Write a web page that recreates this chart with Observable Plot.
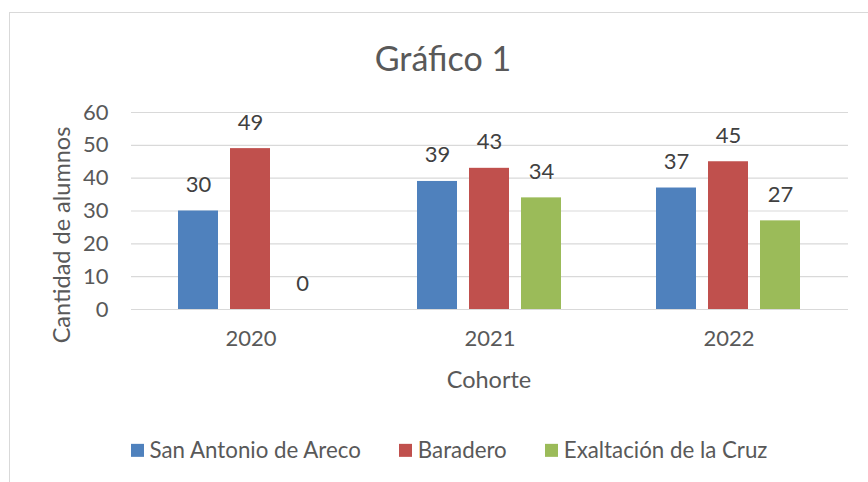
<!DOCTYPE html>
<html>
<head>
<meta charset="utf-8">
<script src="https://cdn.jsdelivr.net/npm/d3@7"></script>
<script src="https://cdn.jsdelivr.net/npm/@observablehq/plot@0.6"></script>
<style>
  html, body { margin: 0; padding: 0; background: #fff; }
  #wrap { position: relative; width: 868px; height: 482px; overflow: hidden; font-family: Lato, sans-serif; color: #595959; }
  #frame { position: absolute; left: 9px; top: 12px; width: 900px; height: 520px; border: 1px solid #d9d9d9; box-sizing: border-box; }
  #title { position: absolute; left: 0; width: 886px; top: 58px; transform: translateY(-50%); text-align: center; font-size: 34px; line-height: 1; }
  #ylab { position: absolute; left: 62px; top: 235px; transform: translate(-50%, -50%) rotate(-90deg); font-size: 23.5px; white-space: nowrap; line-height: 1; }
  #xlab { position: absolute; left: 489px; top: 380px; transform: translate(-50%, -50%); font-size: 23.5px; white-space: nowrap; line-height: 1; }
  #chart { position: absolute; left: 0; top: 90px; }
  #legend { position: absolute; left: 15px; width: 868px; top: 450px; transform: translateY(-50%); display: flex; justify-content: center; gap: 38px; font-size: 22.3px; line-height: 1; }
  .item { display: flex; align-items: center; gap: 6px; white-space: nowrap; }
  .sw { width: 13px; height: 13px; display: inline-block; }
</style>
</head>
<body>
<div id="wrap">
  <div id="frame"></div>
  <div id="title">Gráfico 1</div>
  <div id="ylab">Cantidad de alumnos</div>
  <div id="chart"></div>
  <div id="xlab">Cohorte</div>
  <div id="legend"></div>
</div>
<script>
const cohorts = ["2020", "2021", "2022"];
const series = ["San Antonio de Areco", "Baradero", "Exaltación de la Cruz"];
const sanAntonio = [30, 39, 37];
const baradero = [49, 43, 45];
const exaltacion = [0, 34, 27];
const colors = ["#4f81bd", "#c0504d", "#9bbb59"];
const yTicks = [0, 10, 20, 30, 40, 50, 60];

const seriesValues = [sanAntonio, baradero, exaltacion];
const data = cohorts.flatMap((c, i) =>
  series.map((s, j) => ({ cohort: c, series: s, value: seriesValues[j][i] }))
);

const chart = Plot.plot({
  width: 868,
  height: 275,
  marginLeft: 130,
  marginRight: 20,
  marginTop: 22,
  marginBottom: 56,
  style: { fontFamily: "Lato, sans-serif", fontSize: "22px", color: "#595959", background: "transparent", overflow: "visible" },
  fx: { domain: cohorts, padding: 0, label: null, axis: "bottom", tickSize: 0, tickPadding: 21 },
  x: { domain: series, axis: null, paddingInner: 0.226, paddingOuter: 0.87 },
  y: { domain: [0, 60], ticks: yTicks, tickSize: 0, tickPadding: 23, label: null },
  color: { domain: series, range: colors },
  marks: [
    Plot.gridY({ ticks: yTicks, stroke: "#d9d9d9", strokeOpacity: 1, strokeWidth: 1.2 }),
    Plot.barY(data, { fx: "cohort", x: "series", y: "value", fill: "series" }),
    Plot.text(data, { fx: "cohort", x: "series", y: "value", text: d => String(d.value), dy: -26, fill: "#404040" })
  ]
});
document.getElementById("chart").appendChild(chart);

const legend = document.getElementById("legend");
series.forEach((s, i) => {
  const item = document.createElement("div");
  item.className = "item";
  const sw = document.createElement("span");
  sw.className = "sw";
  sw.style.background = colors[i];
  const t = document.createElement("span");
  t.textContent = s;
  item.appendChild(sw);
  item.appendChild(t);
  legend.appendChild(item);
});
</script>
</body>
</html>
